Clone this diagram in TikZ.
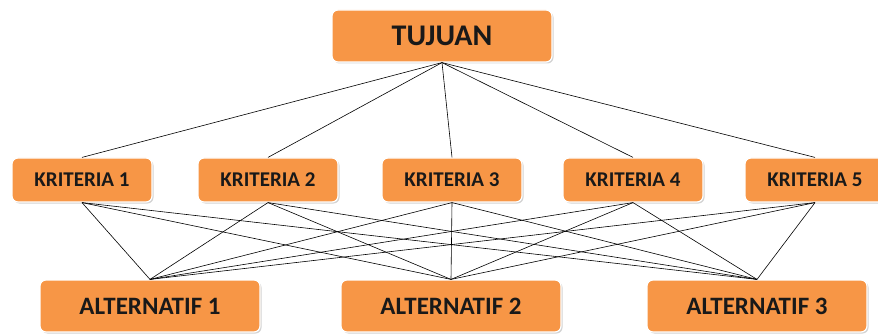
\documentclass[tikz,border=0pt]{standalone}
\usepackage{fontspec}
\setmainfont{Carlito}
\usetikzlibrary{shadows}
\definecolor{boxorange}{HTML}{F79646}

\begin{document}
\begin{tikzpicture}[x=1pt, y=-1pt, every node/.style={rounded corners=6pt, fill=boxorange, draw=white, line width=1.2pt, font=\bfseries, text=black!90, drop shadow={shadow xshift=1.5pt, shadow yshift=-1.5pt, opacity=0.35}}]

\useasboundingbox (0,0) rectangle (878,334);

\node[minimum width=220pt, minimum height=52pt, font=\bfseries\fontsize{30}{32}\selectfont] (t) at (442,36) {TUJUAN};

\foreach \x/\n in {82/1, 268/2, 452/3, 633/4, 815/5}
  \node[minimum width=140pt, minimum height=44pt, font=\bfseries\fontsize{21}{22}\selectfont] (k\n) at (\x,180) {KRITERIA \n};

\foreach \x/\n in {150/1, 451/2, 757/3}
  \node[minimum width=220pt, minimum height=52pt, font=\bfseries\fontsize{25}{27}\selectfont] (a\n) at (\x,306) {ALTERNATIF \n};

\foreach \n in {1,...,5} {
  \draw[line width=0.6pt] (t.south) -- (k\n.north);
  \foreach \m in {1,2,3}
    \draw[line width=0.6pt] (k\n.south) -- (a\m.north);
}

\end{tikzpicture}
\end{document}
